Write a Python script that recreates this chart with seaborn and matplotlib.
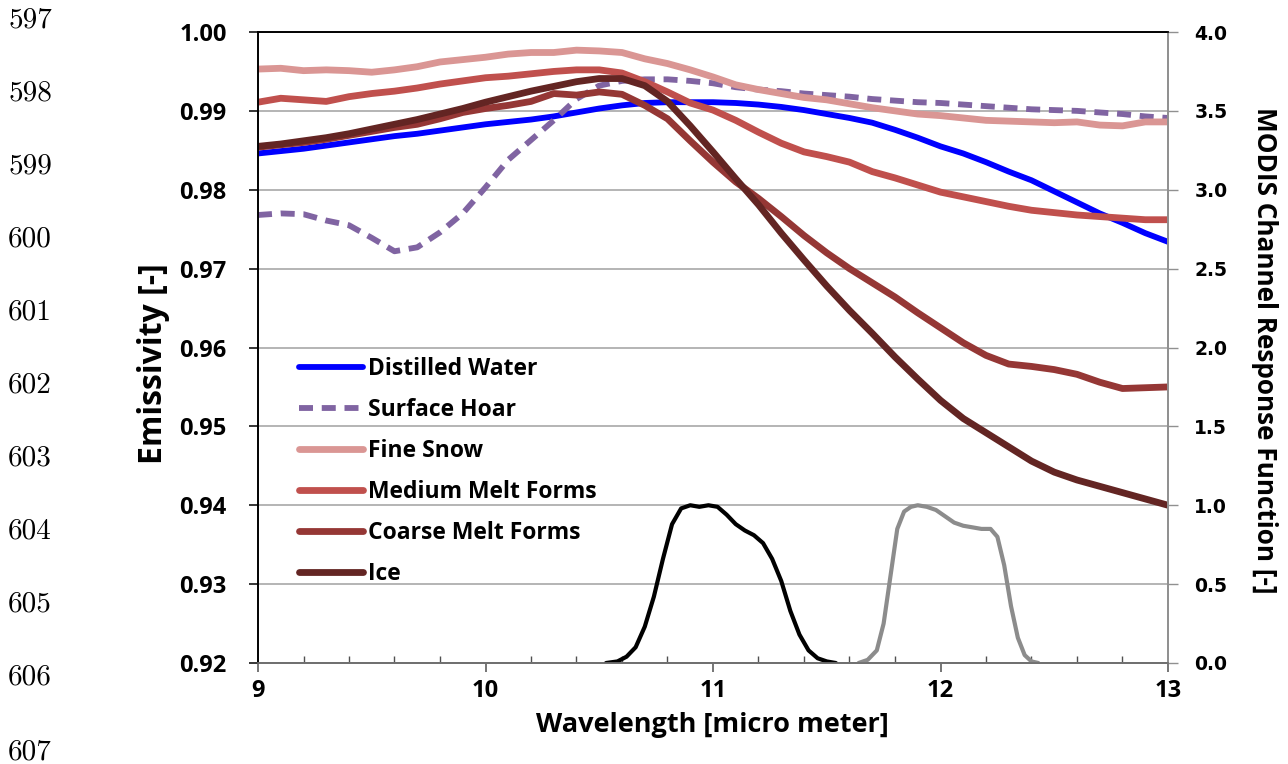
import numpy as np
import pandas as pd
import matplotlib
matplotlib.use("Agg")
import matplotlib.pyplot as plt
import seaborn as sns

# ---------------- data ----------------
wavelength = [9.0, 9.1, 9.2, 9.3, 9.4, 9.5, 9.6, 9.7, 9.8, 9.9,
              10.0, 10.1, 10.2, 10.3, 10.4, 10.5, 10.6, 10.7, 10.8, 10.9,
              11.0, 11.1, 11.2, 11.3, 11.4, 11.5, 11.6, 11.7, 11.8, 11.9,
              12.0, 12.1, 12.2, 12.3, 12.4, 12.5, 12.6, 12.7, 12.8, 12.9, 13.0]

distilled_water = [0.9846, 0.9849, 0.9852, 0.9856, 0.9860, 0.9864, 0.9868, 0.9871, 0.9875, 0.9879,
                   0.9883, 0.9886, 0.9889, 0.9893, 0.9898, 0.9903, 0.9907, 0.9910, 0.9911, 0.9911,
                   0.9911, 0.9910, 0.9908, 0.9905, 0.9901, 0.9896, 0.9891, 0.9885, 0.9876, 0.9866,
                   0.9855, 0.9846, 0.9835, 0.9823, 0.9812, 0.9798, 0.9784, 0.9770, 0.9758, 0.9745, 0.9734]

surface_hoar = [0.9768, 0.9770, 0.9769, 0.9761, 0.9755, 0.9739, 0.9722, 0.9727, 0.9746, 0.9770,
                0.9803, 0.9838, 0.9863, 0.9888, 0.9915, 0.9932, 0.9938, 0.9940, 0.9940, 0.9938,
                0.9935, 0.9930, 0.9927, 0.9925, 0.9922, 0.9920, 0.9918, 0.9915, 0.9913, 0.9911,
                0.9910, 0.9908, 0.9906, 0.9904, 0.9902, 0.9901, 0.9900, 0.9898, 0.9896, 0.9893, 0.9891]

fine_snow = [0.9953, 0.9954, 0.9951, 0.9952, 0.9951, 0.9949, 0.9952, 0.9956, 0.9962, 0.9965,
             0.9968, 0.9972, 0.9974, 0.9974, 0.9977, 0.9976, 0.9974, 0.9966, 0.9960, 0.9952,
             0.9943, 0.9933, 0.9927, 0.9922, 0.9917, 0.9914, 0.9909, 0.9904, 0.9900, 0.9896,
             0.9894, 0.9891, 0.9888, 0.9887, 0.9886, 0.9885, 0.9886, 0.9882, 0.9881, 0.9886, 0.9886]

medium_melt = [0.9911, 0.9916, 0.9914, 0.9912, 0.9918, 0.9922, 0.9925, 0.9929, 0.9934, 0.9938,
               0.9942, 0.9944, 0.9947, 0.9950, 0.9952, 0.9952, 0.9948, 0.9937, 0.9924, 0.9910,
               0.9901, 0.9888, 0.9873, 0.9859, 0.9848, 0.9842, 0.9835, 0.9823, 0.9815, 0.9806,
               0.9797, 0.9791, 0.9785, 0.9779, 0.9774, 0.9771, 0.9768, 0.9766, 0.9764, 0.9762, 0.9762]

coarse_melt = [0.9854, 0.9857, 0.9860, 0.9864, 0.9869, 0.9874, 0.9879, 0.9883, 0.9890, 0.9898,
               0.9903, 0.9907, 0.9912, 0.9922, 0.9920, 0.9924, 0.9921, 0.9907, 0.9890, 0.9862,
               0.9835, 0.9810, 0.9789, 0.9766, 0.9742, 0.9720, 0.9700, 0.9682, 0.9664, 0.9644,
               0.9625, 0.9606, 0.9590, 0.9579, 0.9576, 0.9572, 0.9566, 0.9556, 0.9548, 0.9549, 0.9550]

ice = [0.9855, 0.9858, 0.9862, 0.9866, 0.9871, 0.9877, 0.9883, 0.9889, 0.9896, 0.9903,
       0.9911, 0.9918, 0.9925, 0.9931, 0.9937, 0.9941, 0.9941, 0.9932, 0.9912, 0.9881,
       0.9848, 0.9814, 0.9781, 0.9745, 0.9711, 0.9678, 0.9647, 0.9618, 0.9588, 0.9560,
       0.9533, 0.9510, 0.9492, 0.9474, 0.9456, 0.9442, 0.9432, 0.9424, 0.9416, 0.9408, 0.9400]

band31_wl = [10.53, 10.58, 10.62, 10.66, 10.70, 10.74, 10.78, 10.82, 10.86, 10.90, 10.94, 10.98, 11.02,
             11.06, 11.10, 11.14, 11.18, 11.22, 11.26, 11.30, 11.34, 11.38, 11.42, 11.46, 11.50, 11.54]
band31_rsr = [0.00, 0.01, 0.04, 0.10, 0.23, 0.42, 0.66, 0.88, 0.98, 1.00, 0.99, 1.00, 0.99,
              0.94, 0.88, 0.84, 0.81, 0.76, 0.66, 0.52, 0.33, 0.18, 0.08, 0.03, 0.01, 0.00]

band32_wl = [11.64, 11.68, 11.72, 11.75, 11.78, 11.81, 11.84, 11.87, 11.90, 11.94, 11.98, 12.02,
             12.06, 12.10, 12.14, 12.18, 12.22, 12.25, 12.28, 12.31, 12.34, 12.37, 12.40, 12.43]
band32_rsr = [0.00, 0.02, 0.08, 0.25, 0.55, 0.85, 0.96, 0.99, 1.00, 0.99, 0.97, 0.93,
              0.89, 0.87, 0.86, 0.85, 0.85, 0.80, 0.62, 0.36, 0.16, 0.05, 0.01, 0.00]

series_names = ["Distilled Water", "Surface Hoar", "Fine Snow",
                "Medium Melt Forms", "Coarse Melt Forms", "Ice"]
series_values = [distilled_water, surface_hoar, fine_snow, medium_melt, coarse_melt, ice]
series_colors = ["#0000FF", "#8064A2", "#DA9694", "#C0504D", "#953735", "#632523"]

emis_ticks = [0.92, 0.93, 0.94, 0.95, 0.96, 0.97, 0.98, 0.99, 1.00]
rsr_ticks = [0.0, 0.5, 1.0, 1.5, 2.0, 2.5, 3.0, 3.5, 4.0]
x_ticks = [9, 10, 11, 12, 13]
line_numbers = ["597", "598", "599", "600", "601", "602", "603", "604", "605", "606", "607"]

# ---------------- style ----------------
sns.set_theme(style="white")
FONT = ["Open Sans", "DejaVu Sans"]
plt.rcParams["font.family"] = FONT
plt.rcParams["font.weight"] = "bold"
for key in ["text.color", "axes.labelcolor", "xtick.color", "ytick.color"]:
    plt.rcParams[key] = "black"

W, H = 1288, 764
fig = plt.figure(figsize=(W / 100, H / 100), dpi=100)
ax = fig.add_axes([258 / W, 1 - 663 / H, (1168 - 258) / W, (663 - 32) / H])

df = pd.DataFrame({"wavelength": wavelength})
for name, vals in zip(series_names, series_values):
    df[name] = vals

for name, col in zip(series_names, series_colors):
    if name == "Surface Hoar":
        sns.lineplot(data=df, x="wavelength", y=name, ax=ax, color=col, lw=4.2,
                     label=name, linestyle=(0, (2.4, 1.5)), dash_capstyle="butt")
    else:
        lw = 4.2 if name == "Distilled Water" else 4.9
        sns.lineplot(data=df, x="wavelength", y=name, ax=ax, color=col, lw=lw,
                     label=name, solid_capstyle="round")

ax.set_xlim(9, 13)
ax.set_ylim(0.92, 1.00)
ax.set_yticks(emis_ticks)
ax.set_yticklabels([f"{v:.2f}" for v in emis_ticks])
ax.set_xticks(x_ticks)
ax.set_xticklabels([str(v) for v in x_ticks])
ax.set_xticks(np.arange(9, 13.01, 0.2), minor=True)
ax.grid(axis="y", color="#A0A0A0", lw=1.1)
ax.grid(axis="x", visible=False)
ax.set_axisbelow(True)

for side in ["left", "top"]:
    ax.spines[side].set_color("black")
    ax.spines[side].set_linewidth(1.1)
ax.spines["bottom"].set_color("#707070")
ax.spines["bottom"].set_linewidth(1.3)
ax.spines["right"].set_color("#909090")

ax.tick_params(axis="y", which="major", direction="out", length=6.5, width=1.1,
               color="black", left=True, pad=16, labelsize=17, labelcolor="black")
ax.tick_params(axis="x", which="major", direction="out", length=6.5, width=1.1,
               color="#505050", bottom=True, pad=5, labelsize=17, labelcolor="black")
ax.tick_params(axis="x", which="minor", direction="in", length=5, width=1.0,
               color="#505050", bottom=True)
for lab in ax.get_yticklabels() + ax.get_xticklabels():
    lab.set_fontweight("bold")

ax.set_xlabel("Wavelength [micro meter]", fontsize=19.5, fontweight="bold")
ax.xaxis.set_label_coords((712 - 258) / 910, (663 - 712) / 631)
ax.set_ylabel("Emissivity [-]", fontsize=23, fontweight="bold")
ax.yaxis.set_label_coords((170 - 258) / 910, (663 - 364) / 631)

leg = ax.legend(loc="upper left", bbox_to_anchor=(0.035, 0.50), frameon=False,
                fontsize=16.5, handlelength=2.8, handletextpad=0.2,
                labelspacing=0.745, borderaxespad=0)
for t in leg.get_texts():
    t.set_fontweight("bold")

# secondary axis: MODIS channel response
ax2 = ax.twinx()
sns.lineplot(x=band31_wl, y=band31_rsr, ax=ax2, color="black", lw=3.0)
sns.lineplot(x=band32_wl, y=band32_rsr, ax=ax2, color="#8C8C8C", lw=3.0)
ax2.set_ylim(0, 4)
ax2.set_yticks(rsr_ticks)
ax2.set_yticklabels([f"{v:.1f}" for v in rsr_ticks], family="DejaVu Sans",
                    fontweight="bold", fontsize=13.5)
ax2.tick_params(axis="y", direction="out", length=7, width=1.0, color="#909090",
                right=True, pad=12, labelcolor="black")
ax2.set_ylabel("MODIS Channel Response Function [-]", rotation=270,
               fontsize=18.8, fontweight="bold")
ax2.yaxis.set_label_coords((1278 - 258) / 910, (663 - 350) / 631)
ax2.spines["right"].set_color("#909090")
ax2.spines["top"].set_color("black")
ax2.spines["left"].set_color("black")
ax2.spines["bottom"].set_color("#707070")
ax2.grid(False)

# manuscript line numbers
y0, dy = 20, 73.0
for i, n in enumerate(line_numbers):
    yy = y0 + i * dy
    if n == "607":
        yy = 752
    fig.text(8 / W, 1 - yy / H, n, family="cmr10", fontsize=21,
             fontweight="normal", va="center", ha="left", color="black")

fig.savefig("out.png", dpi=100)
